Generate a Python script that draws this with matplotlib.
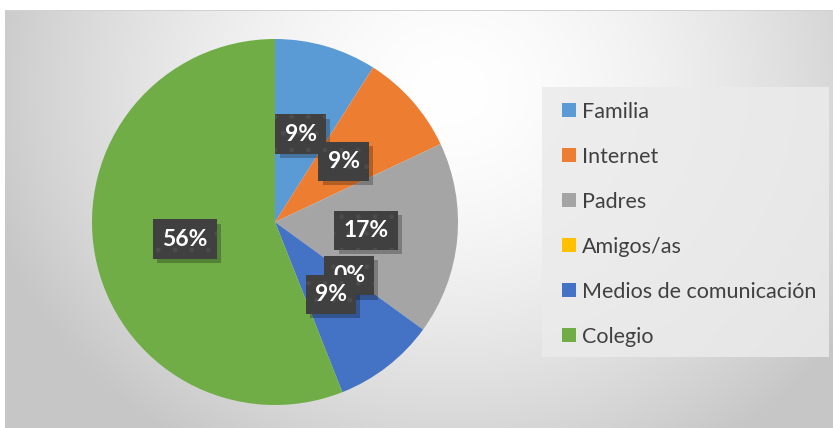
import matplotlib.pyplot as plt
import numpy as np
from matplotlib.patches import Rectangle
from matplotlib.transforms import offset_copy

categories = ['Familia', 'Internet', 'Padres', 'Amigos/as', 'Medios de comunicación', 'Colegio']
values = [9, 9, 17, 0, 9, 56]
colors = ['#5B9BD5', '#ED7D31', '#A5A5A5', '#FFC000', '#4472C4', '#70AD47']

W, H = 833, 428
fig = plt.figure(figsize=(W / 100, H / 100), dpi=100)
plt.rcParams['font.family'] = ['Lato', 'DejaVu Sans']

# radial gradient background (chart area starts a bit in from the top/left)
bg = fig.add_axes([0, 0, 1, 1])
yy, xx = np.mgrid[0:H, 0:W]
r = np.sqrt(((xx - 450) / 480.0) ** 2 + ((yy - 90) / 420.0) ** 2)
shade = 1 - 0.22 * np.clip(r, 0, 1) ** 1.6
img = np.dstack([shade] * 3)
img[:10, :] = 1
img[:, :5] = 1
img[10, 5:] = 0.82
bg.imshow(img, extent=[0, W, H, 0], aspect='auto', interpolation='bilinear')
bg.set_xlim(0, W)
bg.set_ylim(H, 0)
bg.axis('off')

# pie
cx, cy, rad = 275, 222, 183
ax = fig.add_axes([(cx - rad) / W, (H - cy - rad) / H, 2 * rad / W, 2 * rad / H])
wedges, texts, autotexts = ax.pie(values, colors=colors, startangle=90, counterclock=False,
                                  radius=1, autopct='%d%%', pctdistance=0.5,
                                  wedgeprops=dict(linewidth=0))
ax.set_xlim(-1, 1)
ax.set_ylim(-1, 1)
ax.set_aspect('auto')

for t in autotexts:
    x, y = t.get_position()
    # soft shadow
    ax.text(x, y, t.get_text(), ha='center', va='center', fontsize=16.5, fontweight='bold',
            color='none', zorder=4,
            transform=offset_copy(ax.transData, fig=fig, x=3, y=-3, units='points'),
            bbox=dict(boxstyle='square,pad=0.4', facecolor='black', alpha=0.25, edgecolor='none'))
    t.set_fontsize(16.5)
    t.set_fontweight('bold')
    t.set_color('white')
    t.set_zorder(5)
    t.set_bbox(dict(boxstyle='square,pad=0.4', facecolor='#404040', edgecolor='#4c4c4c',
                    linewidth=0, hatch='.'))

# legend box
fig.patches.append(Rectangle((542 / W, 1 - 357 / H), (829 - 542) / W, (357 - 87) / H,
                             transform=fig.transFigure, facecolor='#ebebeb', alpha=0.85,
                             edgecolor='none', zorder=1))
leg = fig.legend(wedges, categories, loc='upper left', bbox_to_anchor=(551 / W, 1 - 91 / H),
                 frameon=False, fontsize=15.5, handlelength=0.65, handleheight=0.65,
                 handletextpad=0.3, labelspacing=1.16, borderpad=0)
for t in leg.get_texts():
    t.set_color('#404040')

fig.savefig('out.png', dpi=100)
